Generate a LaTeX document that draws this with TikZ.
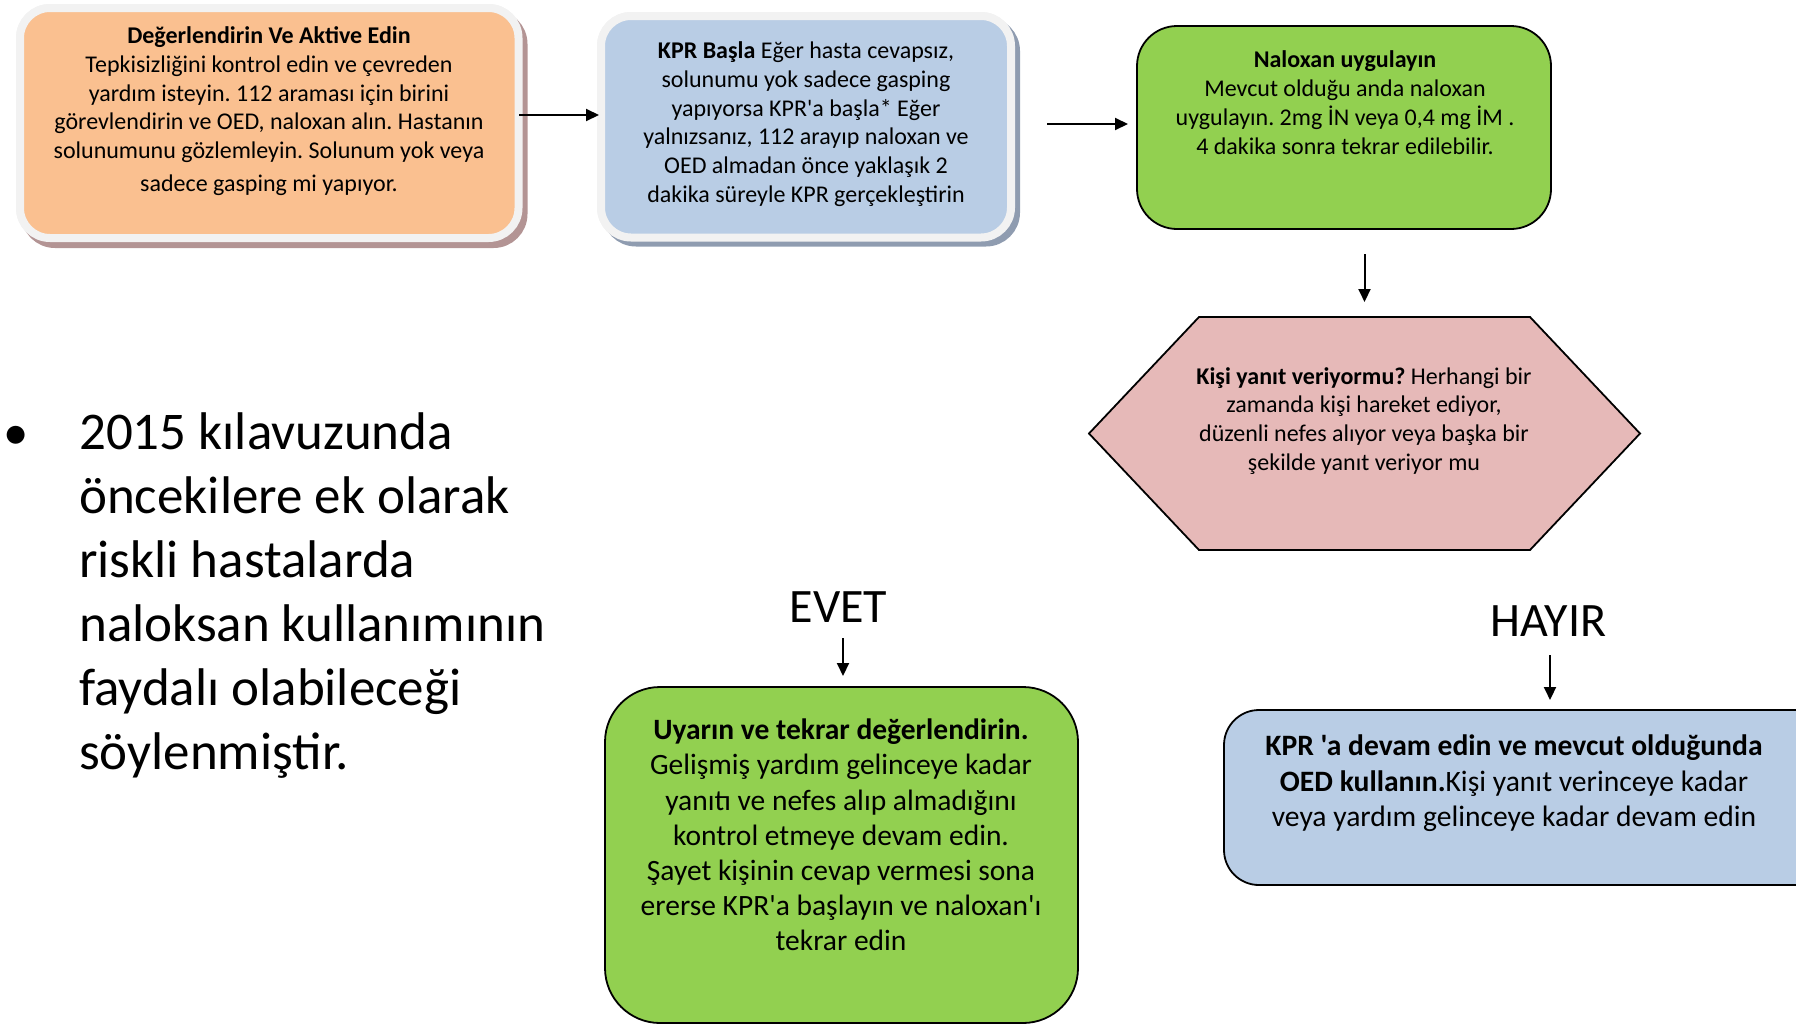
\documentclass[tikz,border=0pt]{standalone}
\usepackage{fontspec}
\setmainfont{Carlito}[Ligatures=TeXOff]
\usetikzlibrary{arrows.meta,calc}
\definecolor{orangefill}{HTML}{FAC090}
\definecolor{framegray}{HTML}{F2F2F2}
\definecolor{orangeshadow}{HTML}{B39494}
\definecolor{bluefill}{HTML}{B9CDE5}
\definecolor{blueshadow}{HTML}{8F9CB0}
\definecolor{greenfill}{HTML}{92D050}
\definecolor{pinkfill}{HTML}{E6B9B8}
\frenchspacing
\begin{document}
\begin{tikzpicture}[x=1pt,y=-1pt,
  boxbase/.style={rectangle,inner sep=0pt,outer sep=0pt},
  framebox/.style={boxbase,draw=framegray,line width=8pt,rounded corners=30pt},
  shadowbox/.style={line width=8pt,rounded corners=30pt},
  plainbox/.style={boxbase,draw=black,line width=1.8pt},
  txs/.style={anchor=north,inner sep=0pt,align=center,font=\fontsize{24}{28.7}\selectfont},
  txm/.style={anchor=north,inner sep=0pt,align=center,font=\fontsize{29.5}{35.2}\selectfont},
  lbl/.style={inner sep=0pt,font=\fontsize{48}{56}\selectfont},
  arr/.style={line width=2pt,-{Triangle[length=13pt,width=12pt]}}
]
\useasboundingbox (0,0) rectangle (1796,1026);

% box 1 (orange, framed) and box 2 (blue, framed): placed first for their names
\node[framebox,fill=orangefill,minimum width=498.5pt,minimum height=230pt] (ob) at (269.25,123) {};
\node[framebox,fill=bluefill,minimum width=410pt,minimum height=221.5pt] (bb) at (806,126.75) {};
% shadows behind framed boxes
\path[shadowbox,fill=orangeshadow,draw=orangeshadow]
  ([shift={(5,6)}]ob.north west) rectangle ([shift={(5,6)}]ob.south east);
\path[shadowbox,fill=blueshadow,draw=blueshadow]
  ([shift={(5,5)}]bb.north west) rectangle ([shift={(5,5)}]bb.south east);
% redraw framed boxes on top of shadows
\path[framebox,fill=orangefill,draw=framegray] (ob.north west) rectangle (ob.south east);
\path[framebox,fill=bluefill,draw=framegray] (bb.north west) rectangle (bb.south east);

% green box 1
\node[plainbox,fill=greenfill,rounded corners=40pt,minimum width=414pt,minimum height=203pt] (g1) at (1344,127.5) {};
% hexagon
\node[boxbase,minimum width=551pt,minimum height=233pt] (hex) at (1364.5,433.5) {};
\draw[fill=pinkfill,line width=1.8pt,line join=miter]
  (hex.west) -- ($(hex.north west)+(110,0)$) -- ($(hex.north east)+(-110,0)$) -- (hex.east)
  -- ($(hex.south east)+(-110,0)$) -- ($(hex.south west)+(110,0)$) -- cycle;
% green box 2
\node[plainbox,fill=greenfill,rounded corners=55pt,minimum width=473pt,minimum height=336pt] (g2) at (841.5,855) {};
% blue box 2
\node[plainbox,fill=bluefill,rounded corners=35pt,minimum width=616pt,minimum height=175pt] (b2) at (1532,797.5) {};

% texts
\node[txs] (t1) at (269,23.6) {\strut\textbf{Değerlendirin Ve Aktive Edin}\\
Tepkisizliğini kontrol edin ve çevreden\\
yardım isteyin. 112 araması için birini\\
görevlendirin ve OED, naloxan alın. Hastanın\\
solunumunu gözlemleyin. Solunum yok veya\\[4pt]
sadece gasping mi yapıyor.};
\node[txs] (t2) at (806,38.5) {\strut\textbf{KPR Başla} Eğer hasta cevapsız,\\
solunumu yok sadece gasping\\
yapıyorsa KPR'a başla* Eğer\\
yalnızsanız, 112 arayıp naloxan ve\\
OED almadan önce yaklaşık 2\\
dakika süreyle KPR gerçekleştirin};
\node[txs] (t3) at (1345,47.7) {\strut\textbf{Naloxan uygulayın}\\
Mevcut olduğu anda naloxan\\
uygulayın. 2mg İN veya 0,4 mg İM .\\
4 dakika sonra tekrar edilebilir.};
\node[txs] (t4) at (1364,363.8) {\strut\textbf{Kişi yanıt veriyormu?} Herhangi bir\\
zamanda kişi hareket ediyor,\\
düzenli nefes alıyor veya başka bir\\
şekilde yanıt veriyor mu};
\node[txm] (t5) at (841,714.9) {\strut\textbf{Uyarın ve tekrar değerlendirin.}\\
Gelişmiş yardım gelinceye kadar\\
yanıtı ve nefes alıp almadığını\\
kontrol etmeye devam edin.\\
Şayet kişinin cevap vermesi sona\\
ererse KPR'a başlayın ve naloxan'ı\\
tekrar edin};
\node[txm,font=\fontsize{29.6}{35.5}\selectfont] (t6) at (1514,730.6) {\strut\textbf{KPR 'a devam edin ve mevcut olduğunda}\\
\textbf{OED kullanın.}Kişi yanıt verinceye kadar\\
veya yardım gelinceye kadar devam edin};

% labels
\node[lbl] (evet) at (838.5,607) {EVET};
\node[lbl] (hayir) at (1548.6,620.8) {HAYIR};

% bullet text
\node[anchor=base,inner sep=0pt,font=\fontsize{50.7}{64}\selectfont] (bul) at (16,449) {•};
\node[anchor=north west,inner sep=0pt,align=left,font=\fontsize{53}{64}\selectfont] (bt) at (79,404) {\strut 2015 kılavuzunda\\
öncekilere ek olarak\\
riskli hastalarda\\
naloksan kullanımının\\
faydalı olabileceği\\
söylenmiştir.};

% connectors
\coordinate (a1s) at (519,115);
\draw[arr,shorten >=2pt] (a1s) -- (a1s -| bb.west);
\coordinate (a2s) at (1047,124);
\draw[arr,shorten >=9pt] (a2s) -- (a2s -| g1.west);
\draw[arr,shorten <=25pt,shorten >=15pt] (g1.south -| hex.north) -- (hex.north);
\coordinate (ea) at (843,638);
\draw[arr,shorten >=11pt] (ea) -- (ea |- g2.north);
\coordinate (ha) at (1550,655);
\draw[arr,shorten >=10pt] (ha) -- (ha |- b2.north);
\end{tikzpicture}
\end{document}
